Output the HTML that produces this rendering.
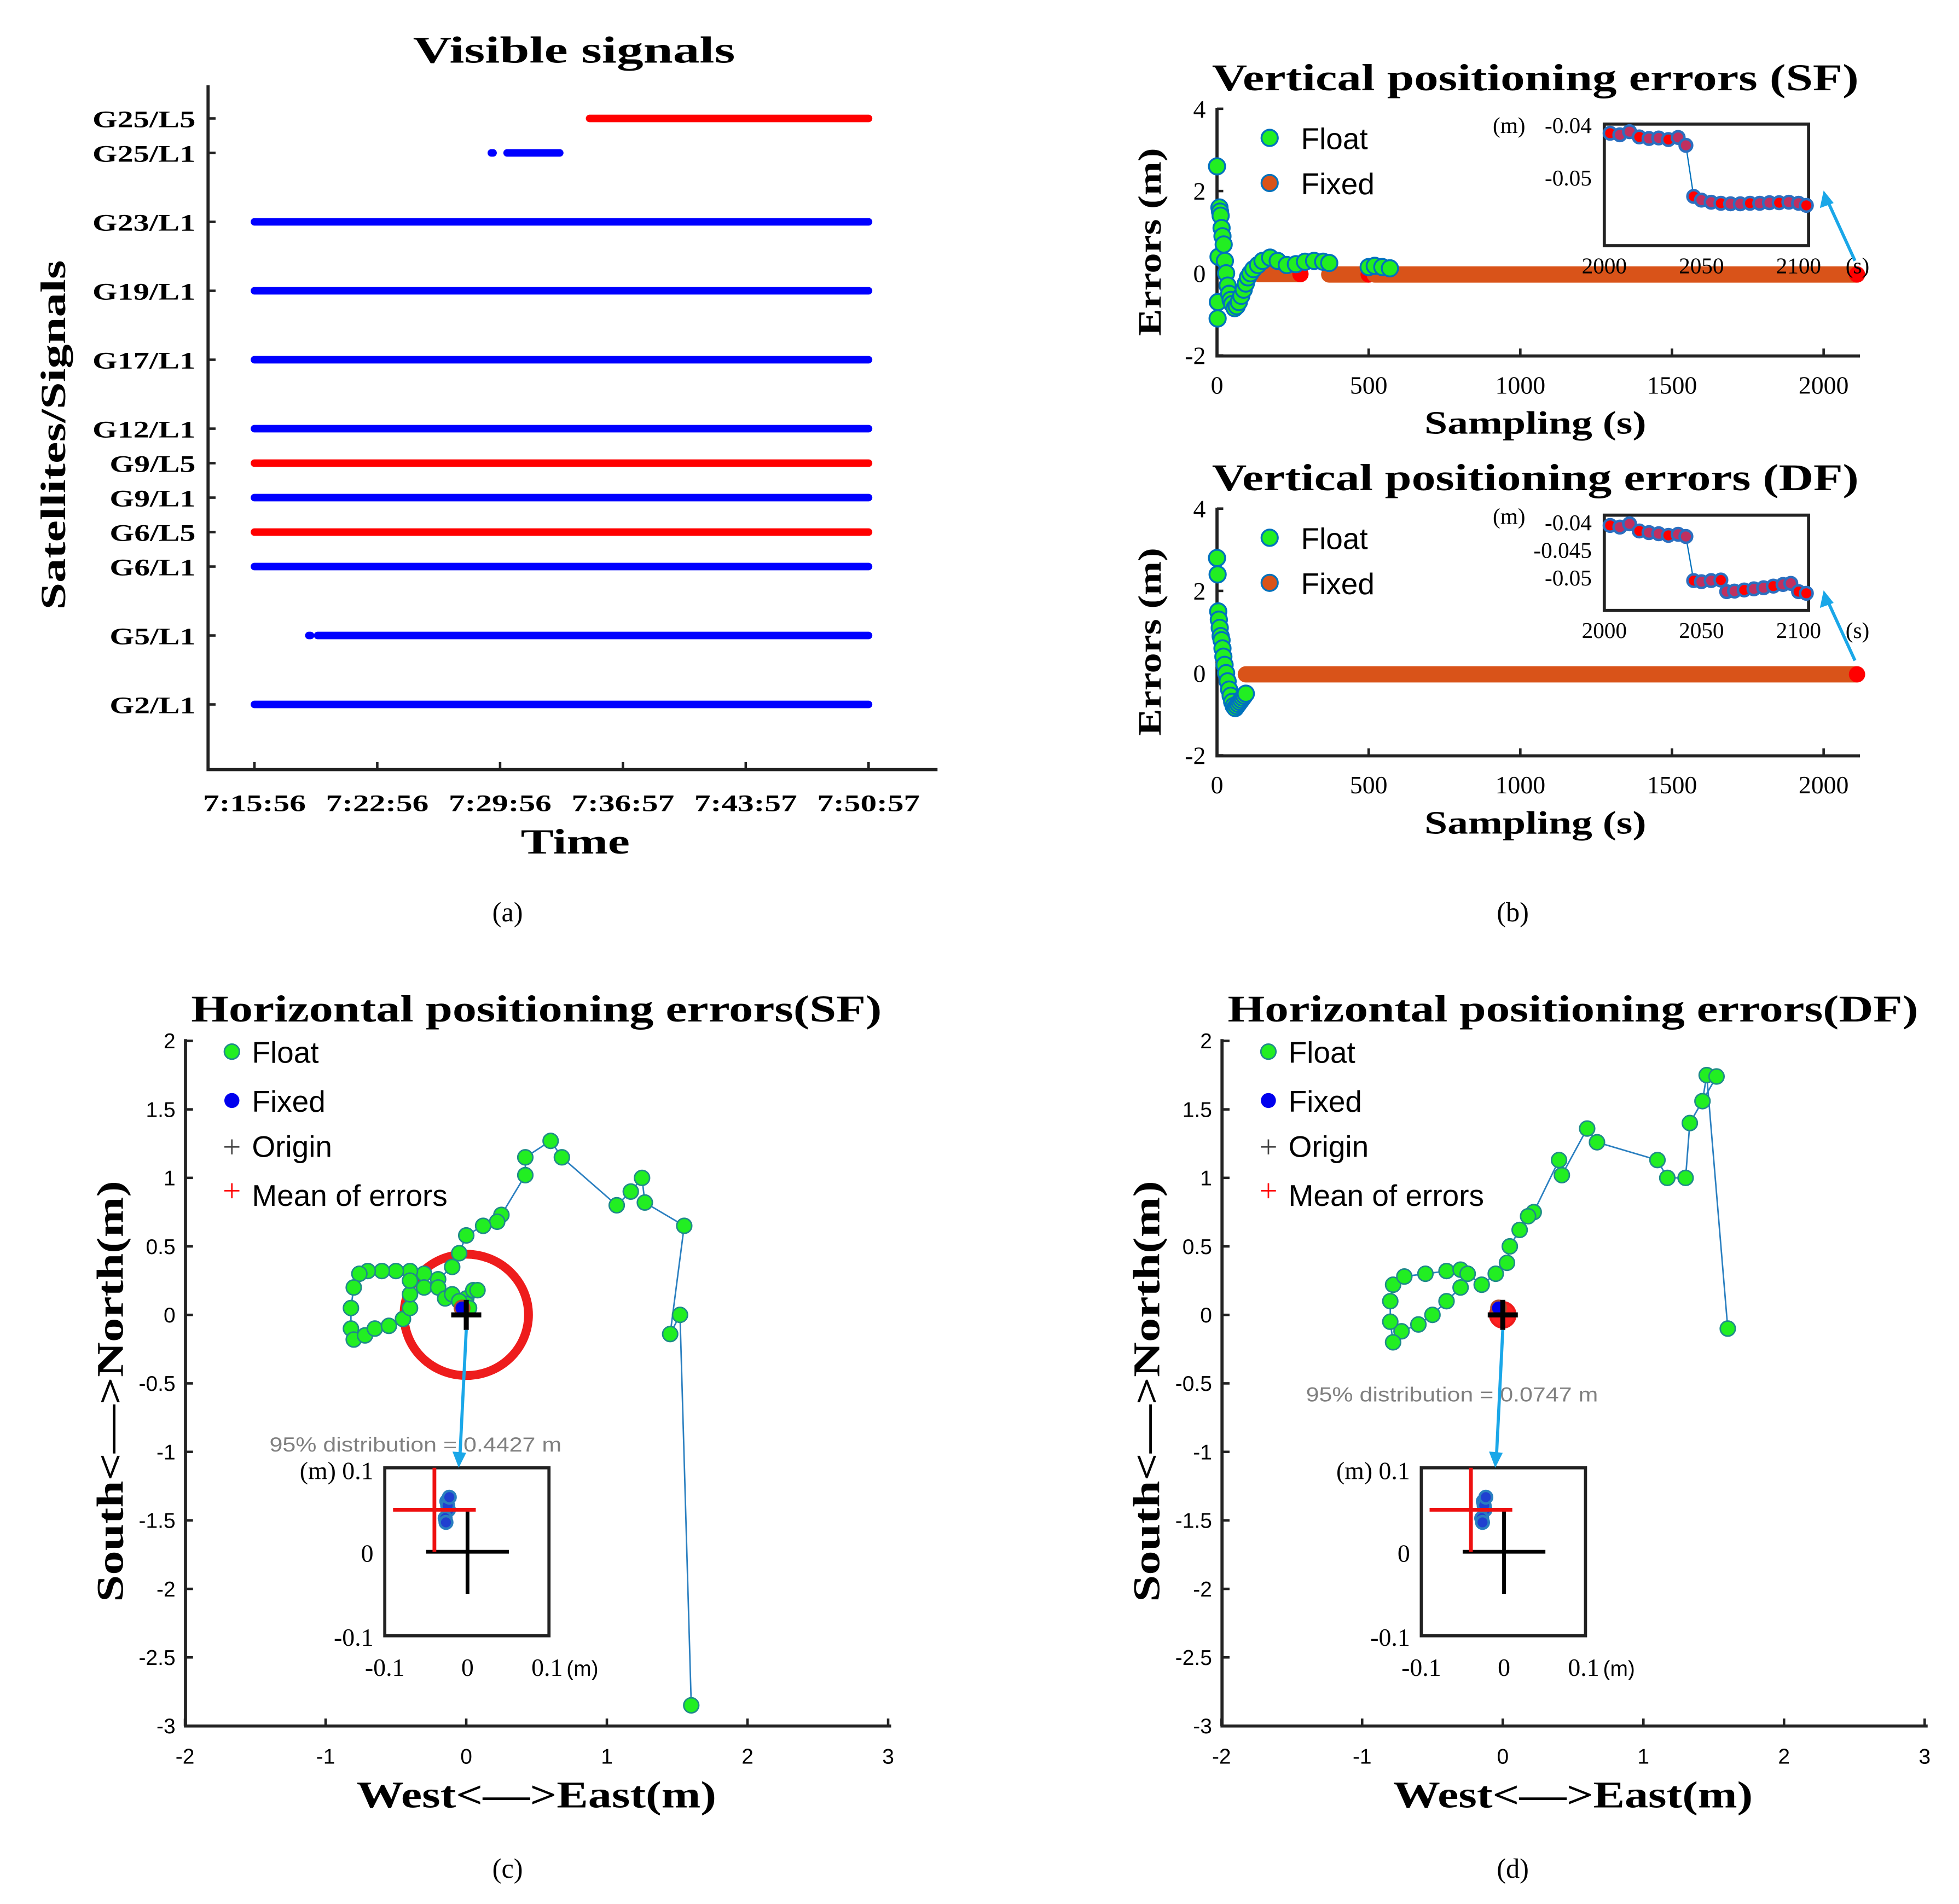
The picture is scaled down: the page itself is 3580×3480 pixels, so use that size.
<!DOCTYPE html>
<html><head><meta charset="utf-8">
<style>
html,body{margin:0;padding:0;background:#fff;}
svg{display:block;}
.ser{font-family:"Liberation Serif",serif;}
.san{font-family:"Liberation Sans",sans-serif;}
</style></head>
<body>
<svg id="fig" width="3580" height="3480" viewBox="0 0 1563 1519" preserveAspectRatio="none" xmlns="http://www.w3.org/2000/svg">
<rect width="1563" height="1519" fill="#fff"/>
<g id="pa"></g>
<g id="pb1"></g>
<g id="pb2"></g>
<g id="pc"></g>
<g id="pd"></g>
<g id="caps"></g>
</svg>
<script>
// ===== Panel (a) data =====
const signalNames = ["G25/L5","G25/L1","G23/L1","G19/L1","G17/L1","G12/L1","G9/L5","G9/L1","G6/L5","G6/L1","G5/L1","G2/L1"];
const signalRows = [1,2,4,6,8,10,11,12,13,14,16,18];
const signalBand = ["L5","L1","L1","L1","L1","L1","L5","L1","L5","L1","L1","L1"];
const signalSegments = [[0,19.1,35],[1,13.5,13.6],[1,14.4,17.4],[2,0,35],[3,0,35],[4,0,35],[5,0,35],[6,0,35],[7,0,35],[8,0,35],[9,0,35],[10,3.1,3.2],[10,3.6,35],[11,0,35]];
const timeTicks = [0,7,14,21,28,35];
const timeLabels = ["7:15:56","7:22:56","7:29:56","7:36:57","7:43:57","7:50:57"];

// ===== Panel (b) data =====
const vertTicksX = [0,500,1000,1500,2000];
const vertTicksY = [-2,0,2,4];
const sfFloatT = [0,2,3,5,8,10,12,15,18,22,26,30,35,40,45,50,58,65,72,80,88,95,102,110,120,135,150,175,200,230,260,290,320,350,370,500,520,545,570];
const sfFloatV = [2.6,-1.1,-0.7,0.4,1.6,1.5,1.4,1.1,0.9,0.7,0.3,0.0,-0.3,-0.5,-0.65,-0.75,-0.85,-0.8,-0.7,-0.55,-0.4,-0.25,-0.1,0.0,0.1,0.2,0.3,0.38,0.3,0.2,0.22,0.28,0.3,0.28,0.25,0.15,0.18,0.15,0.12];
const sfFixedSeg = [[140,275],[370,500],[520,2110]];
const sfFixedV = [-0.02,-0.03,-0.03];
const dfFloatT = [0,2,4,6,9,12,15,18,21,25,30,35,40,45,50,55,60,65,70,75,80,85,90,95];
const dfFloatV = [2.8,2.4,1.5,1.3,1.1,0.9,0.8,0.6,0.4,0.2,0.0,-0.2,-0.4,-0.55,-0.7,-0.8,-0.85,-0.8,-0.75,-0.7,-0.65,-0.6,-0.55,-0.5];
const dfFixedSeg = [[95,2110]];
const dfFixedV = [-0.03];
const sfInsetT = [2003,2008,2013,2018,2023,2028,2033,2038,2042,2046,2050,2055,2060,2065,2070,2075,2080,2085,2090,2095,2100,2104];
const sfInsetV = [-0.0415,-0.0418,-0.0412,-0.0422,-0.0425,-0.0424,-0.0427,-0.0423,-0.0438,-0.0535,-0.0542,-0.0546,-0.0548,-0.0549,-0.0549,-0.0548,-0.0548,-0.0547,-0.0547,-0.0546,-0.0548,-0.0552];
const dfInsetT = [2003,2008,2013,2018,2023,2028,2033,2038,2042,2046,2050,2055,2060,2063,2067,2072,2077,2082,2087,2092,2096,2100,2104];
const dfInsetV = [-0.0405,-0.0408,-0.0402,-0.0415,-0.0418,-0.042,-0.0423,-0.0421,-0.0425,-0.0505,-0.0507,-0.0505,-0.0504,-0.0525,-0.0524,-0.0522,-0.052,-0.0518,-0.0515,-0.0512,-0.051,-0.0525,-0.0528];

// ===== Panel (c),(d) data =====
const horizTicksX = [-2,-1,0,1,2,3];
const horizTicksY = [2,1.5,1,0.5,0,-0.5,-1,-1.5,-2,-2.5,-3];
const horizTickLabelsY = ["2","1.5","1","0.5","0","-0.5","-1","-1.5","-2","-2.5","-3"];
const sfEast = [1.6,1.52,1.45,1.55,1.27,1.25,1.17,1.07,0.68,0.6,0.42,0.42,0.25,0.22,0.12,0.0,-0.05,-0.1,-0.2,-0.3,-0.4,-0.5,-0.6,-0.7,-0.76,-0.8,-0.82,-0.82,-0.8,-0.72,-0.65,-0.55,-0.45,-0.4,-0.4,-0.4,-0.3,-0.2,-0.15,-0.1,-0.05,0.0,0.05,0.08,0.0,-0.05,0.02];
const sfNorth = [-2.85,0.0,-0.14,0.65,0.82,1.0,0.9,0.8,1.15,1.27,1.15,1.02,0.73,0.68,0.65,0.58,0.45,0.35,0.26,0.3,0.32,0.32,0.32,0.32,0.3,0.2,0.05,-0.1,-0.18,-0.15,-0.1,-0.08,-0.03,0.05,0.15,0.25,0.2,0.2,0.12,0.15,0.1,0.12,0.18,0.18,0.08,0.1,0.05];
const dfEast = [1.6,1.45,1.42,1.52,1.33,1.3,1.17,1.1,0.67,0.6,0.42,0.4,0.22,0.18,0.12,0.05,0.03,-0.05,-0.15,-0.25,-0.3,-0.4,-0.5,-0.6,-0.72,-0.78,-0.8,-0.8,-0.78,-0.7,-0.55,-0.4,-0.3,-0.25];
const dfNorth = [-0.1,1.75,1.56,1.74,1.4,1.0,1.0,1.13,1.26,1.36,1.02,1.13,0.75,0.72,0.62,0.5,0.38,0.3,0.22,0.3,0.2,0.1,0.0,-0.07,-0.12,-0.2,-0.05,0.1,0.22,0.28,0.3,0.32,0.33,0.3];
const sfInsetE = [-0.025,-0.023,-0.027,-0.024,-0.022,-0.026];
const sfInsetN = [0.06,0.05,0.04,0.055,0.065,0.035];
const dfInsetE = [-0.025,-0.023,-0.027,-0.024,-0.022,-0.026];
const dfInsetN = [0.06,0.05,0.04,0.055,0.065,0.035];
const sfMean = [-0.04,0.05];
const dfMean = [-0.04,0.05];
const sfRadius = 0.4427;
const dfRadius = 0.0747;

const NS = "http://www.w3.org/2000/svg";
function mk(parent, tag, attrs, text){
  const e = document.createElementNS(NS, tag);
  for (const k in attrs) e.setAttribute(k, attrs[k]);
  if (text !== undefined) e.textContent = text;
  parent.appendChild(e);
  return e;
}
function txt(parent, x, y, s, size, cls, anchor, weight, fill, tl){
  const a = {x:x, y:y, "font-size":size, "class":cls, "text-anchor":anchor||"middle", "font-weight":weight||"normal", fill:fill||"#000"};
  if (tl) { a.textLength = tl; a.lengthAdjust = "spacingAndGlyphs"; }
  return mk(parent, "text", a, s);
}

// ---------- Panel (a) ----------
(function(){
  const g = document.getElementById("pa");
  const xS = t => 203 + t*14;
  const yRow = r => 67 + r*27.5;
  let e;
  e = txt(g, 458, 50, "Visible signals", 30, "ser", "middle", "bold", "#000", 257);
  
  
  e = mk(g, "path", {d:"M166,68 V614 H748", fill:"none", stroke:"#222", "stroke-width":2.5});
  
  
  signalNames.forEach((n,i)=>{
    const y = yRow(signalRows[i]);
    mk(g,"line",{x1:166,x2:172,y1:y,y2:y,stroke:"#222","stroke-width":2});
    e = txt(g, 156, y+7, n, 19, "ser", "end", "bold", "#000", n.length*13.7);
    
    
  });
  timeTicks.forEach((t,i)=>{
    const x = xS(t);
    mk(g,"line",{x1:x,x2:x,y1:614,y2:608,stroke:"#222","stroke-width":2});
    e = txt(g, x, 647, timeLabels[i], 19, "ser", "middle", "bold", "#000", 82);
    
    
  });
  signalSegments.forEach(s=>{
    const y = yRow(signalRows[s[0]]);
    const col = signalBand[s[0]]==="L5" ? "#ff0000" : "#0000ff";
    e = mk(g,"line",{x1:xS(s[1]),x2:xS(s[2]),y1:y,y2:y,stroke:col,"stroke-width":6,"stroke-linecap":"round"});
    
    
  });
  e = txt(g, 459, 681, "Time", 28, "ser", "middle", "bold", "#000", 87);
  
  
  e = txt(g, 0, 0, "Satellites/Signals", 28, "ser", "middle", "bold", "#000", 279);
  e.setAttribute("transform","translate(52,347) rotate(-90)");
  
  
})();

// ---------- Panel (b) ----------
function vertPanel(gid, dy, title, fT, fV, fixSeg, fixV, inT, inV, inset){
  const g = document.getElementById(gid);
  const xS = t => 971 + t*0.242;
  const yS = v => dy + 218 - v*32.8;
  let e;
  e = txt(g, 1225, dy+72, title, 30, "ser", "middle", "bold", "#000", 516);
  
  
  e = mk(g,"path",{d:`M971,${dy+86} V${dy+284} H1484`,fill:"none",stroke:"#222","stroke-width":2.5});
  
  
  vertTicksY.forEach(v=>{
    const y = yS(v);
    mk(g,"line",{x1:971,x2:976,y1:y,y2:y,stroke:"#222","stroke-width":2});
    e = txt(g, 962, y+7, String(v), 20, "ser", "end");
    
    
  });
  vertTicksX.forEach(v=>{
    const x = xS(v);
    mk(g,"line",{x1:x,x2:x,y1:dy+284,y2:dy+278,stroke:"#222","stroke-width":2});
    e = txt(g, x, dy+314, String(v), 20, "ser", "middle");
    
    
  });
  fixSeg.forEach((s,i)=>{
    e = mk(g,"line",{x1:xS(s[0]),x2:xS(s[1]),y1:yS(fixV[i]),y2:yS(fixV[i]),stroke:"#d95319","stroke-width":13,"stroke-linecap":"round"});
    
    
    e = mk(g,"circle",{cx:xS(s[1]),cy:yS(fixV[i]),r:6.5,fill:"#ff0000"});
    
    
  });
  fT.forEach((t,i)=>{
    e = mk(g,"circle",{cx:xS(t),cy:yS(fV[i]),r:6.5,fill:"#22ee22",stroke:"#0072bd","stroke-width":1.5});
    
    
  });
  e = mk(g,"circle",{cx:1013,cy:dy+110,r:6.5,fill:"#22ee22",stroke:"#0072bd","stroke-width":1.5});
  
  
  e = txt(g, 1038, dy+119, "Float", 24, "san", "start");
  
  
  e = mk(g,"circle",{cx:1013,cy:dy+146,r:6.5,fill:"#d95319",stroke:"#0072bd","stroke-width":1.5});
  
  
  e = txt(g, 1038, dy+155, "Fixed", 24, "san", "start");
  
  
  const ix = t => 1280 + (t-2000)*1.55;
  const iy = v => inset.y0 + (inset.v0 - v)*inset.k;
  e = mk(g,"rect",{x:1280,y:inset.top,width:163,height:inset.h,fill:"#fff",stroke:"#222","stroke-width":2.5});
  
  
  let d = "";
  inT.forEach((t,i)=>{ d += (i?"L":"M")+ix(t)+","+iy(inV[i]); });
  mk(g,"path",{d:d,fill:"none",stroke:"#0072bd","stroke-width":1});
  inT.forEach((t,i)=>{
    e = mk(g,"circle",{cx:ix(t),cy:iy(inV[i]),r:5,fill:(i%3===0||i===inT.length-1)?"#ff0000":"#c03060",stroke:"#2a6fc0","stroke-width":2});
    
    
  });
  inset.labels.forEach(l=>{
    e = txt(g, 1270, iy(l[0])+6, l[1], 18, "ser", "end");
    
    
  });
  txt(g, 1217, inset.top+7, "(m)", 18, "ser", "end");
  [2000,2050,2100].forEach(t=>{
    e = txt(g, ix(t), inset.top+inset.h+22, String(t), 18, "ser", "middle");
    
    
  });
  txt(g, 1482, inset.top+inset.h+22, "(s)", 18, "ser", "middle");
  e = mk(g,"path",{d:`M${1480},${dy+208} L1458,${dy+160}`,stroke:"#1aa7e8","stroke-width":2.5,fill:"none"});
  
  
  mk(g,"path",{d:`M1455,${dy+152} L1452,${dy+166} L1463,${dy+162} Z`,fill:"#1aa7e8"});
  e = txt(g, 0, 0, "Errors (m)", 26, "ser", "middle", "bold", "#000", 150);
  e.setAttribute("transform",`translate(926,${dy+193}) rotate(-90)`);
  
  
  e = txt(g, 1225, dy+346, "Sampling (s)", 26, "ser", "middle", "bold", "#000", 177);
  
  
}
vertPanel("pb1", 0, "Vertical positioning errors (SF)", sfFloatT, sfFloatV, sfFixedSeg, sfFixedV, sfInsetT, sfInsetV,
  {top:99,h:97,y0:100,v0:-0.04,k:4200,labels:[[-0.04,"-0.04"],[-0.05,"-0.05"]]});
vertPanel("pb2", 319, "Vertical positioning errors (DF)", dfFloatT, dfFloatV, dfFixedSeg, dfFixedV, dfInsetT, dfInsetV,
  {top:411,h:76,y0:417,v0:-0.04,k:4400,labels:[[-0.04,"-0.04"],[-0.045,"-0.045"],[-0.05,"-0.05"]]});

// ---------- Panels (c),(d) ----------
function horizPanel(gid, dx, title, E, N, iE, iN, mean, radius, distText){
  const g = document.getElementById(gid);
  const xS = v => dx + 372 + v*112.2;
  const yS = v => 1049 - v*109.3;
  let e;
  e = txt(g, dx+428, 815, title, 30, "ser", "middle", "bold", "#000", 551);
  
  
  e = mk(g,"path",{d:`M${dx+148},829 V1377 H${dx+711}`,fill:"none",stroke:"#222","stroke-width":2.5});
  
  
  horizTicksY.forEach((v,i)=>{
    const y = yS(v);
    mk(g,"line",{x1:dx+148,x2:dx+154,y1:y,y2:y,stroke:"#222","stroke-width":2});
    e = txt(g, dx+140, y+6, horizTickLabelsY[i], 17, "san", "end");
    
    
  });
  horizTicksX.forEach(v=>{
    const x = xS(v);
    mk(g,"line",{x1:x,x2:x,y1:1377,y2:1371,stroke:"#222","stroke-width":2});
    e = txt(g, x, 1407, String(v), 17, "san", "middle");
    
    
  });
  e = mk(g,"ellipse",{cx:xS(0),cy:yS(0),rx:Math.max(radius*112.2,10),ry:Math.max(radius*109.3,10),fill:radius<0.1?"#ff2020":"none",stroke:"#ee1c1c","stroke-width":radius<0.1?2:7});
  
  
  let d = "";
  E.forEach((x,i)=>{ d += (i?"L":"M")+xS(x)+","+yS(N[i]); });
  e = mk(g,"path",{d:d,fill:"none",stroke:"#2a7fc0","stroke-width":1.2});
  
  
  E.forEach((x,i)=>{
    e = mk(g,"circle",{cx:xS(x),cy:yS(N[i]),r:6,fill:"#22ee22",stroke:"#1f8a8a","stroke-width":1.2});
    
    
  });
  e = mk(g,"circle",{cx:xS(-0.03),cy:yS(0.05),r:6,fill:"#0000ee",stroke:"#b05030","stroke-width":1.5});
  
  
  e = mk(g,"path",{d:`M${xS(0)-12},${yS(0)} H${xS(0)+12} M${xS(0)},${yS(0)-12} V${yS(0)+12}`,stroke:"#000","stroke-width":4});
  
  
  const lx = dx+185;
  mk(g,"circle",{cx:lx,cy:839,r:6,fill:"#22ee22",stroke:"#1f8a8a","stroke-width":1.2});
  e = txt(g, dx+201, 848, "Float", 24, "san", "start");
  
  
  mk(g,"circle",{cx:lx,cy:878,r:6,fill:"#0000ee"});
  e = txt(g, dx+201, 887, "Fixed", 24, "san", "start");
  
  
  mk(g,"path",{d:`M${lx-6},915 H${lx+6} M${lx},909 V921`,stroke:"#444","stroke-width":1.2});
  e = txt(g, dx+201, 923, "Origin", 24, "san", "start");
  
  
  mk(g,"path",{d:`M${lx-6},950 H${lx+6} M${lx},944 V956`,stroke:"#ff0000","stroke-width":1.2});
  e = txt(g, dx+201, 962, "Mean of errors", 24, "san", "start");
  
  
  e = txt(g, dx+215, radius<0.1?1118:1158, distText, 16, "san", "start", "normal", "#808080", 233);
  
  
  const ix = v => dx + 373 + v*660;
  const iy = v => 1238 - v*670;
  e = mk(g,"rect",{x:dx+307,y:1171,width:131,height:134,fill:"#fff",stroke:"#222","stroke-width":2.5});
  
  
  iE.forEach((x,i)=>{
    e = mk(g,"circle",{cx:ix(x),cy:iy(iN[i]),r:5,fill:"#2040d0",stroke:"#2a7fc0","stroke-width":2});
    
    
  });
  e = mk(g,"path",{d:`M${ix(-0.05)},${iy(0)} H${ix(0.05)} M${ix(0)},${iy(0.05)} V${iy(-0.05)}`,stroke:"#000","stroke-width":3});
  
  
  e = mk(g,"path",{d:`M${ix(mean[0]-0.05)},${iy(mean[1])} H${ix(mean[0]+0.05)} M${ix(mean[0])},${iy(mean[1]+0.05)} V${iy(mean[1]-0.05)}`,stroke:"#ee1010","stroke-width":3});
  
  
  txt(g, dx+298, 1180, "(m) 0.1", 20, "ser", "end");
  txt(g, dx+298, 1246, "0", 20, "ser", "end");
  txt(g, dx+298, 1313, "-0.1", 20, "ser", "end");
  txt(g, dx+307, 1337, "-0.1", 20, "ser", "middle");
  txt(g, dx+373, 1337, "0", 20, "ser", "middle");
  txt(g, dx+424, 1337, "0.1", 20, "ser", "start");
  txt(g, dx+452, 1337, "(m)", 17, "san", "start");
  e = mk(g,"path",{d:`M${xS(0)},${yS(0)+12} L${xS(0)-5},1161`,stroke:"#1aa7e8","stroke-width":2.5,fill:"none"});
  
  
  mk(g,"path",{d:`M${xS(0)-6},1171 L${xS(0)-11},1158 L${xS(0)},1159 Z`,fill:"#1aa7e8"});
  e = txt(g, dx+428, 1442, "West<—>East(m)", 30, "ser", "middle", "bold", "#000", 287);
  
  
  e = txt(g, 0, 0, "South<—>North(m)", 30, "ser", "middle", "bold", "#000", 336);
  e.setAttribute("transform",`translate(${dx+98},1110) rotate(-90)`);
  
  
}
horizPanel("pc", 0, "Horizontal positioning errors(SF)", sfEast, sfNorth, sfInsetE, sfInsetN, sfMean, sfRadius, "95% distribution = 0.4427 m");
horizPanel("pd", 827, "Horizontal positioning errors(DF)", dfEast, dfNorth, dfInsetE, dfInsetN, dfMean, dfRadius, "95% distribution = 0.0747 m");

(function(){
  const g = document.getElementById("caps");
  const caps = [["(a)",405,735],["(b)",1207,735],["(c)",405,1498],["(d)",1207,1498]];
  caps.forEach(c=>{
    const e = txt(g, c[1], c[2], c[0], 22, "ser", "middle");
    
    
  });
})();
</script>
</body></html>
